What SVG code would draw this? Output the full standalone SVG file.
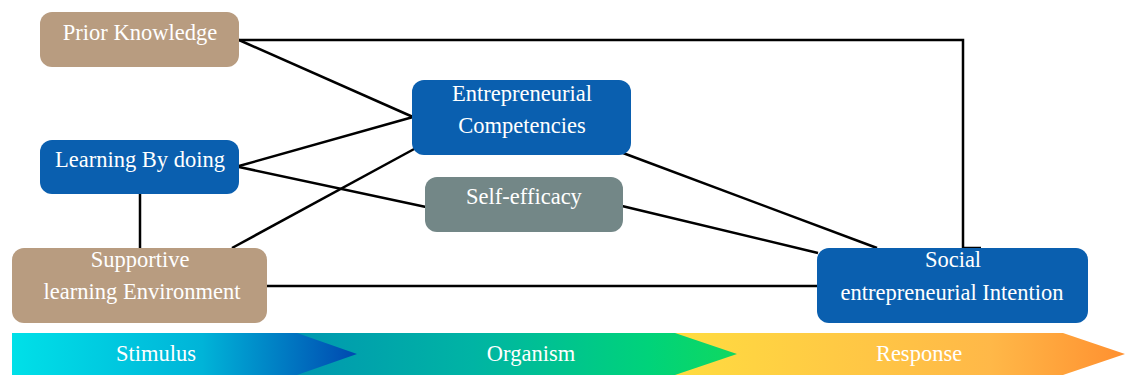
<svg xmlns="http://www.w3.org/2000/svg" width="1137" height="386" viewBox="0 0 1137 386">
<style>
.t{font-family:'Liberation Serif','Times New Roman',serif;font-size:22.5px;fill:#fff;text-anchor:middle}
.c{stroke:#000;stroke-width:2.5;fill:none}
.tan{fill:#B89C80}
.blue{fill:#0A5FAF}
.gray{fill:#738787}
</style>
<defs>
<linearGradient id="gS" x1="0" x2="1" y1="0" y2="0"><stop offset="0" stop-color="#00E0E8"/><stop offset="0.55" stop-color="#00B4D8"/><stop offset="1" stop-color="#0048B0"/></linearGradient>
<linearGradient id="gO" x1="0" x2="1" y1="0" y2="0"><stop offset="0" stop-color="#0098B0"/><stop offset="0.4" stop-color="#00B4A4"/><stop offset="0.8" stop-color="#00D37A"/><stop offset="1" stop-color="#10D860"/></linearGradient>
<linearGradient id="gR" x1="0" x2="1" y1="0" y2="0"><stop offset="0" stop-color="#FFDC40"/><stop offset="0.7" stop-color="#FFB848"/><stop offset="1" stop-color="#FF9030"/></linearGradient>
</defs>
<g id="band">
<polygon points="675,333 1063,333 1125,354 1063,375 675,375" fill="url(#gR)"/>
<polygon points="297,333 675,333 737,354 675,375 297,375" fill="url(#gO)"/>
<polygon points="12,333 297,333 357,354 297,375 12,375" fill="url(#gS)"/>
<text class="t" x="156" y="361">Stimulus</text>
<text class="t" x="531" y="361">Organism</text>
<text class="t" x="919" y="361">Response</text>
</g>
<g id="connectors">
<polyline class="c" points="239,40 963,40 963,248 981,248"/>
<line class="c" x1="239" y1="40" x2="413" y2="117"/>
<line class="c" x1="239" y1="166" x2="413" y2="117"/>
<line class="c" x1="239" y1="167" x2="426" y2="207"/>
<line class="c" x1="140" y1="194" x2="140" y2="248"/>
<line class="c" x1="232" y1="248" x2="416" y2="148"/>
<line class="c" x1="267" y1="286" x2="817" y2="286"/>
<line class="c" x1="623" y1="153" x2="877" y2="248"/>
<line class="c" x1="622" y1="206" x2="818" y2="253"/>
</g>
<g id="prior-knowledge">
<rect class="tan" x="40" y="12" width="199" height="55" rx="12"/>
<text class="t" x="140" y="40">Prior Knowledge</text>
</g>
<g id="learning-by-doing">
<rect class="blue" x="40" y="140" width="199" height="54" rx="12"/>
<text class="t" x="140" y="167">Learning By doing</text>
</g>
<g id="supportive-learning-environment">
<rect class="tan" x="12" y="248" width="255" height="75" rx="12"/>
<text class="t" x="140" y="267">Supportive</text>
<text class="t" x="142" y="299">learning Environment</text>
</g>
<g id="entrepreneurial-competencies">
<rect class="blue" x="412" y="80" width="219" height="75" rx="12"/>
<text class="t" x="522" y="101">Entrepreneurial</text>
<text class="t" x="522" y="133">Competencies</text>
</g>
<g id="self-efficacy">
<rect class="gray" x="425" y="177" width="198" height="55" rx="12"/>
<text class="t" x="524" y="204">Self-efficacy</text>
</g>
<g id="social-entrepreneurial-intention">
<rect class="blue" x="817" y="248" width="271" height="75" rx="12"/>
<text class="t" x="953" y="267">Social</text>
<text class="t" x="952" y="300">entrepreneurial Intention</text>
</g>
</svg>
